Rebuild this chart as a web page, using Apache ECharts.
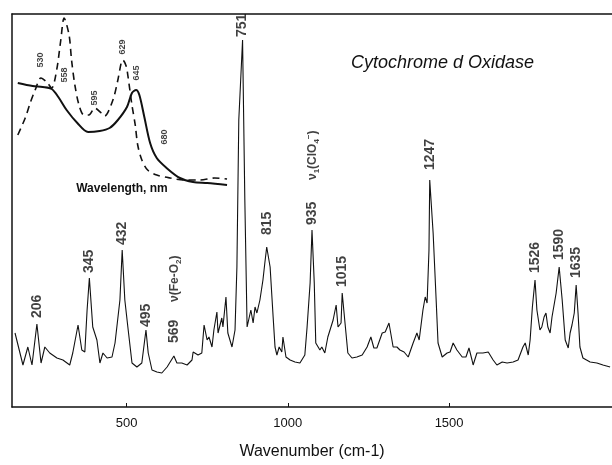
<!DOCTYPE html>
<html>
<head>
<meta charset="utf-8">
<script src="https://cdn.jsdelivr.net/npm/echarts@6/dist/echarts.min.js"></script>
<style>html,body{margin:0;padding:0;background:#fff}#chart{width:612px;height:465px}</style>
</head>
<body>
<div id="chart"></div>
<script>
// Raman spectrum, [wavenumber, intensity]
const ramanSpectrum = [[148,74],[169,42],[182,60],[193,42],[206,83],[217,44],[227,60],[240,54],[259,49],[275,47],[293,42],[301,54],[315,82],[325,57],[333,55],[339,97],[345,129],[354,80],[365,67],[373,44],[381,54],[392,49],[405,50],[413,64],[426,107],[432,157],[439,107],[447,80],[458,44],[471,40],[484,44],[495,77],[501,54],[511,37],[524,35],[537,34],[551,40],[569,51],[577,44],[590,44],[604,42],[617,47],[620,55],[633,52],[643,54],[649,82],[657,67],[662,70],[670,60],[675,77],[683,95],[686,74],[696,89],[699,80],[707,110],[712,74],[723,60],[731,77],[736,140],[741,287],[751,367],[757,207],[763,80],[765,79],[773,97],[779,84],[784,100],[789,94],[797,107],[805,127],[810,144],[815,160],[824,140],[832,90],[837,60],[842,52],[848,60],[855,55],[858,70],[866,50],[877,47],[890,45],[903,44],[916,52],[922,80],[930,124],[935,177],[941,124],[945,64],[956,57],[961,60],[969,54],[977,70],[991,87],[999,102],[1004,80],[1012,84],[1015,114],[1025,74],[1030,54],[1041,49],[1054,50],[1068,52],[1081,60],[1091,70],[1099,59],[1107,59],[1121,74],[1129,75],[1139,84],[1150,60],[1160,60],[1168,57],[1179,55],[1190,50],[1203,64],[1213,74],[1219,67],[1229,97],[1235,110],[1240,104],[1245,157],[1247,227],[1256,174],[1264,107],[1269,64],[1280,50],[1293,54],[1301,55],[1309,64],[1319,57],[1333,50],[1343,50],[1351,59],[1359,47],[1362,42],[1372,54],[1388,54],[1402,55],[1415,47],[1425,42],[1439,45],[1452,44],[1468,45],[1481,47],[1494,60],[1500,64],[1508,52],[1513,67],[1519,100],[1526,127],[1531,97],[1539,77],[1544,80],[1550,90],[1555,94],[1560,80],[1566,74],[1571,90],[1576,92],[1582,114],[1590,140],[1598,107],[1606,67],[1614,59],[1619,74],[1624,82],[1630,94],[1635,122],[1640,94],[1645,60],[1653,49],[1672,45],[1690,44],[1706,42],[1725,40]];

// peak labels: wavenumber and intensity where the label starts
const peakWn = [206, 345, 432, 495, 569, 751, 815, 935, 1015, 1247, 1526, 1590, 1635];
const peakLabelBase = [89, 134, 162, 80, 64, 370, 172, 182, 120, 237, 134, 147, 129];

// band assignments
const noteWn = [572, 938];
const noteBase = [105, 227];
const noteText = ['{n|ν}{t|(Fe-O}{s|2}{t|)}', '{n|ν}{s|1}{t|(ClO}{s|4}{p|−}{t|)}'];

// inset absorption spectra, [wavelength nm, absorbance]
const absSolid = [[502,107],[520,104],[532,103],[543,101],[551,93],[561,80],[574,67],[587,58],[601,59],[613,62],[623,70],[634,83],[640,97],[645,100],[649,95],[655,73],[662,47],[670,32],[682,22],[698,12],[714,8],[731,7],[755,5]];
const absDashed = [[502,55],[511,72],[517,87],[523,100],[530,112],[537,108],[543,102],[549,120],[554,150],[558,172],[564,155],[567,130],[571,105],[576,85],[582,75],[588,75],[595,82],[603,77],[607,74],[617,90],[623,110],[627,127],[629,130],[633,124],[635,115],[640,85],[644,65],[647,45],[652,30],[659,20],[670,15],[686,12],[704,10],[722,10],[740,12],[755,11]];
const insetLabelNm = [530, 558, 595, 629, 645, 680];
const insetLabelAbs = [130, 115, 92, 143, 117, 53];

const tickValues = [500, 1000, 1500];

const chart = echarts.init(document.getElementById('chart'));
const ink = '#111';
const font = 'Liberation Sans, Arial, sans-serif';
const frame = {show: true, lineStyle: {color: ink, width: 1.5}};

chart.setOption({
  animation: false,
  title: {
    text: 'Cytochrome d Oxidase',
    left: 346, top: 49,
    textStyle: {fontFamily: font, fontStyle: 'italic', fontWeight: 'normal', fontSize: 18, color: ink}
  },
  grid: [
    {left: 12, top: 14, right: 0, bottom: 58},
    {left: 12, top: 14, width: 220, height: 176}
  ],
  xAxis: [
    {
      gridIndex: 0, type: 'value', min: 145, max: 2005, position: 'bottom',
      axisLine: frame, splitLine: {show: false},
      axisTick: {inside: true, length: 4, customValues: tickValues, lineStyle: {color: ink}},
      axisLabel: {customValues: tickValues, formatter: v => String(v), margin: 10, fontSize: 13, fontFamily: font, color: ink},
      name: 'Wavenumber (cm-1)', nameLocation: 'middle', nameGap: 37,
      nameTextStyle: {fontFamily: font, fontSize: 16, color: ink}
    },
    {
      // data axis for the spectrum; only its line is drawn, as the top frame
      gridIndex: 0, type: 'value', min: 140, max: 1730, position: 'top',
      axisLine: frame, axisTick: {show: false}, axisLabel: {show: false}, splitLine: {show: false}
    },
    {
      gridIndex: 1, type: 'value', min: 495, max: 761,
      axisLine: {show: false}, axisTick: {show: false}, axisLabel: {show: false}, splitLine: {show: false},
      name: 'Wavelength, nm', nameLocation: 'middle', nameGap: -1,
      nameTextStyle: {fontFamily: font, fontSize: 12, fontWeight: 'bold', color: ink, verticalAlign: 'middle'}
    }
  ],
  yAxis: [
    {
      gridIndex: 0, type: 'value', min: 0, max: 393,
      axisLine: frame, axisTick: {show: false}, axisLabel: {show: false}, splitLine: {show: false}
    },
    {gridIndex: 1, type: 'value', min: 0, max: 176, show: false}
  ],
  series: [
    {
      type: 'line', xAxisIndex: 1, yAxisIndex: 0, data: ramanSpectrum,
      showSymbol: false, lineStyle: {color: ink, width: 1.1}
    },
    {
      type: 'scatter', xAxisIndex: 1, yAxisIndex: 0, symbolSize: 0,
      data: peakWn.map((w, i) => [w, peakLabelBase[i]]),
      label: {
        show: true, position: [0, 0], rotate: 90, align: 'left', verticalAlign: 'middle',
        formatter: p => String(p.value[0]),
        fontFamily: font, fontSize: 14, fontWeight: 'bold', color: ink
      }
    },
    {
      type: 'scatter', xAxisIndex: 1, yAxisIndex: 0, symbolSize: 0,
      data: noteWn.map((w, i) => ({value: [w, noteBase[i]], label: {formatter: noteText[i]}})),
      label: {
        show: true, position: [0, 0], rotate: 90, align: 'left', verticalAlign: 'middle',
        rich: {
          n: {fontFamily: font, fontSize: 12, fontWeight: 'bold', color: ink, lineHeight: 16},
          t: {fontFamily: font, fontSize: 12, fontWeight: 'bold', color: ink, lineHeight: 16},
          s: {fontFamily: font, fontSize: 8, fontWeight: 'bold', color: ink, lineHeight: 16, verticalAlign: 'bottom'},
          p: {fontFamily: font, fontSize: 8, fontWeight: 'bold', color: ink, lineHeight: 16, verticalAlign: 'top'}
        }
      }
    },
    {
      type: 'line', xAxisIndex: 2, yAxisIndex: 1, data: absSolid, smooth: 0.3,
      showSymbol: false, lineStyle: {color: ink, width: 2}
    },
    {
      type: 'line', xAxisIndex: 2, yAxisIndex: 1, data: absDashed, smooth: 0.3,
      showSymbol: false, lineStyle: {color: ink, width: 1.6, type: [7, 5]}
    },
    {
      type: 'scatter', xAxisIndex: 2, yAxisIndex: 1, symbolSize: 0,
      data: insetLabelNm.map((w, i) => [w, insetLabelAbs[i]]),
      label: {
        show: true, position: [0, 0], rotate: 90, align: 'center', verticalAlign: 'middle',
        formatter: p => String(p.value[0]),
        fontFamily: font, fontSize: 9, fontWeight: 'bold', color: ink
      }
    }
  ]
});
</script>
</body>
</html>
